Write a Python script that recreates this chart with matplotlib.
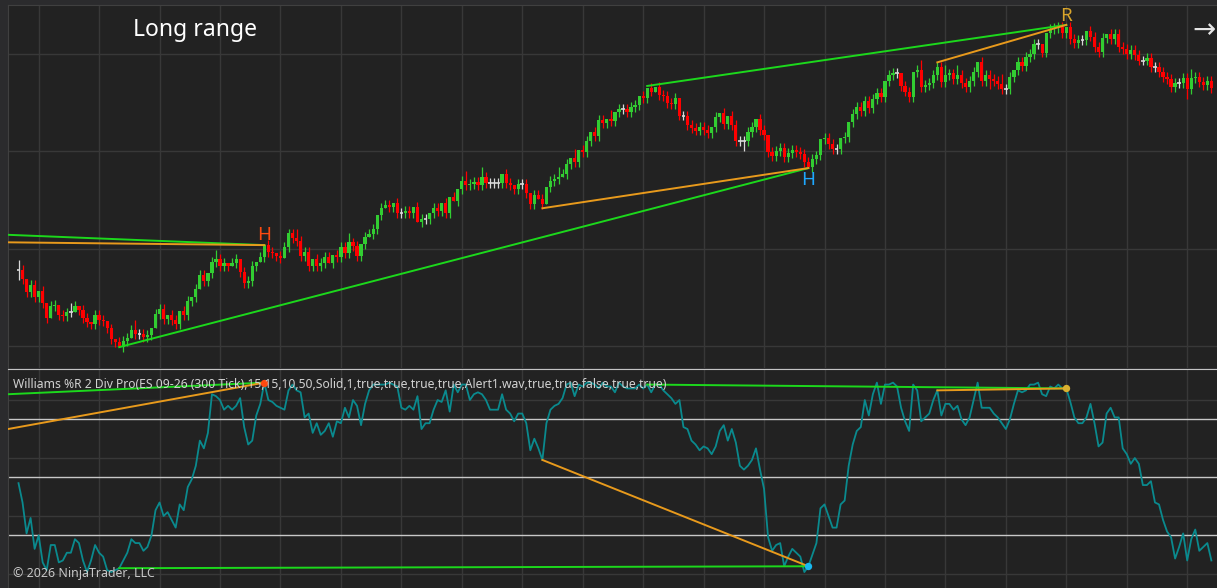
import numpy as np
import matplotlib
matplotlib.use("Agg")
import matplotlib.pyplot as plt

plt.rcParams['font.family'] = ['Noto Sans', 'DejaVu Sans']

# ES 09-26 (300 Tick) closes, one per bar
closes = [
    6403.91, 6403.44, 6402.80, 6403.14, 6402.51, 6402.85, 6402.24, 6401.47, 6402.07, 6402.14,
    6401.61, 6401.57, 6401.74, 6401.74, 6402.07, 6401.86, 6401.47, 6401.23, 6401.14, 6401.61,
    6401.35, 6401.31, 6400.92, 6400.39, 6400.24, 6399.96, 6400.27, 6400.43, 6400.84, 6400.63,
    6400.63, 6400.46, 6400.58, 6400.92, 6401.64, 6401.93, 6401.42, 6401.61, 6401.35, 6401.14,
    6401.81, 6401.61, 6402.32, 6402.54, 6402.95, 6403.66, 6403.36, 6403.77, 6404.32, 6404.46,
    6404.12, 6404.26, 6404.12, 6404.26, 6404.46, 6403.83, 6403.23, 6403.36, 6404.12, 6404.34,
    6404.58, 6405.19, 6404.85, 6404.77, 6404.63, 6404.51, 6405.11, 6405.79, 6405.54, 6405.42,
    6404.63, 6404.85, 6404.13, 6404.48, 6404.13, 6404.26, 6404.59, 6404.26, 6404.68, 6404.56,
    6405.08, 6404.80, 6405.33, 6405.16, 6404.65, 6405.25, 6405.59, 6405.76, 6406.00, 6406.73,
    6407.08, 6407.25, 6407.13, 6407.33, 6406.82, 6406.82, 6406.94, 6406.82, 6407.16, 6406.39,
    6406.53, 6406.53, 6406.85, 6407.08, 6406.95, 6407.36, 6406.82, 6407.64, 6407.47, 6408.07,
    6408.48, 6408.26, 6408.34, 6408.43, 6408.27, 6408.70, 6408.39, 6408.39, 6408.39, 6408.39,
    6408.84, 6408.39, 6408.29, 6408.05, 6408.32, 6408.32, 6407.88, 6407.30, 6407.76, 6407.54,
    6407.30, 6408.18, 6408.49, 6408.58, 6408.67, 6408.82, 6409.35, 6409.64, 6409.47, 6410.07,
    6409.98, 6410.53, 6410.97, 6410.78, 6411.61, 6411.44, 6411.64, 6411.55, 6412.02, 6412.15,
    6412.15, 6412.03, 6412.26, 6412.37, 6412.84, 6412.72, 6413.23, 6413.06, 6413.30, 6412.89,
    6412.85, 6412.46, 6412.40, 6412.72, 6411.83, 6411.83, 6411.35, 6411.21, 6411.06, 6411.23,
    6411.09, 6410.95, 6411.23, 6411.77, 6411.95, 6411.40, 6411.83, 6411.35, 6410.53, 6410.53,
    6410.53, 6410.99, 6411.26, 6411.64, 6411.09, 6410.82, 6409.98, 6409.76, 6410.02, 6410.17,
    6409.69, 6409.90, 6410.07, 6409.98, 6409.86, 6409.44, 6409.21, 6409.61, 6409.79, 6410.62,
    6410.70, 6410.37, 6410.10, 6410.10, 6410.67, 6410.75, 6411.52, 6411.91, 6412.29, 6412.08,
    6412.58, 6412.21, 6412.67, 6413.01, 6412.80, 6413.61, 6413.91, 6414.03, 6414.03, 6413.35,
    6413.06, 6412.80, 6414.08, 6414.17, 6413.31, 6413.40, 6413.52, 6413.91, 6414.34, 6413.57,
    6413.91, 6413.99, 6413.69, 6413.91, 6413.49, 6413.31, 6413.62, 6414.07, 6414.56, 6413.62,
    6413.91, 6413.69, 6413.62, 6413.45, 6413.19, 6413.19, 6413.79, 6414.17, 6414.56, 6414.37,
    6414.82, 6414.99, 6415.50, 6415.50, 6415.06, 6416.05, 6416.26, 6416.31, 6416.39, 6416.07,
    6416.37, 6415.74, 6415.57, 6415.71, 6415.71, 6416.18, 6415.88, 6415.35, 6415.09, 6415.79,
    6416.02, 6415.74, 6416.02, 6415.33, 6415.23, 6414.99, 6415.19, 6414.94, 6414.65, 6414.65,
    6414.77, 6414.34, 6414.34, 6414.08, 6413.79, 6413.69, 6413.28, 6413.52, 6413.52, 6413.74,
    6413.19, 6413.74, 6413.83, 6413.55, 6413.40, 6413.62, 6413.23,
]
# tick bars open where the previous one closed
opens = [closes[0]] + closes[:-1]

# wick lengths in ticks (0.25) above / below the body
wick_up = ("2101101011" "0112101101" "1101011112" "1110111011" "0110111012"
           "1101101110" "1011011112" "1110111101" "1121101110" "1110111101"
           "1101101010" "1211121111" "0110111011" "1011211020" "1101110201"
           "1111010101" "1111011111" "1101010111" "1110110111" "1111111110"
           "1111010111" "1111101110" "1101211111" "2112111101" "1111211011"
           "1111001111" "0111101111" "0111111111" "1111111111" "1211111")
wick_dn = ("2111111101" "1111011111" "1111101101" "1111011111" "1111101111"
           "1110111111" "0111110111" "1111111011" "1111111011" "1011111110"
           "1111111101" "1111111111" "1111111110" "1011101111" "1111111111"
           "1111111101" "1111111111" "1111111111" "2111111111" "1111110111"
           "1111111111" "1111111111" "1111111111" "1111111111" "1211111111"
           "1111111111" "1111111111" "1111111111" "1111111111" "2111111")

# Williams %R values, one per bar
wr = [
    -53, -63, -79, -71, -87, -80, -94, -98, -85, -85,
    -94, -93, -89, -89, -82, -84, -93, -99, -93, -85,
    -89, -91, -98, -99, -98, -97, -93, -89, -82, -84,
    -84, -88, -86, -80, -67, -63, -70, -68, -72, -76,
    -64, -67, -55, -51, -44, -31, -35, -27, -7, -8,
    -10, -15, -13, -15, -13, -9, -24, -33, -31, -18,
    -12, -1, -10, -11, -13, -14, -15, -5, -2, -5,
    -6, -19, -17, -27, -22, -28, -26, -22, -29, -21,
    -22, -14, -19, -10, -13, -23, -12, -5, -2, -2,
    -2, -2, -1, -2, -3, -14, -15, -13, -15, -8,
    -25, -22, -22, -15, -10, -11, -5, -16, -2, -6,
    -2, -2, -10, -7, -6, -7, -10, -15, -15,
    -15, -7, -15, -17, -21, -17, -17, -22, -36, -30,
    -35, -41, -22, -15, -13, -12, -9, -2, -1, -8,
    -2, -3, -1, -1, -2, -4, -1, -3, -3, -6,
    -1, -3, -4, -4, -4, -2, -4, -2, -6, -2,
    -2, -5, -7, -9, -12, -10, -24, -25, -31, -33,
    -36, -34, -35, -38, -34, -26, -23, -31, -25, -32,
    -44,
    -46, -44, -41, -35, -46, -56, -81, -88,
    -85, -84, -96, -91, -87, -89, -91, -99, -96, -90,
    -84, -66, -64, -70, -76, -76, -64, -62, -44, -33,
    -26, -24, -10, -18, -7, -1, -12, -2, -2, -1,
    -3, -14, -21, -26, -2, -5, -21, -19, -17, -10,
    -5, -18, -12, -12, -15, -13, -20, -23, -19, -10,
    -1, -14, -14, -14, -17, -19, -22, -25, -20, -12,
    -5, -6, -5, -2, -2, -1, -7, -8, -3, -4,
    -2, -4, -4, -11, -19, -22, -22, -19, -12, -22,
    -34, -32, -17, -14, -19, -19, -35, -38, -43, -40,
    -43, -54, -54, -52, -63, -64, -72, -78, -81, -92,
    -86,
    -79, -93, -82, -77, -88, -86, -84, -93,
]

# divergence lines: (bar0, value0, bar1, value1, kind)
price_div = [
    (-10, 6405.78, 61, 6405.19, 'green'),
    (-10, 6405.35, 61, 6405.19, 'orange'),
    (25, 6399.96, 196, 6409.14, 'green'),
    (130, 6407.08, 196, 6409.14, 'orange'),
    (156, 6413.35, 260, 6416.48, 'green'),
    (228, 6414.56, 260, 6416.48, 'orange'),
]
wr_div = [
    (-10, -7.7, 61, -1, 'green'),
    (-10, -27.8, 61, -1, 'orange'),
    (25, -97, 196, -96, 'green'),
    (130, -41, 196, -96, 'orange'),
    (156, -2, 260, -4, 'green'),
    (228, -5, 260, -4, 'orange'),
]
pivot_labels = [(61, 6405.71, 'H', '#ff4a10'), (196, 6408.52, 'H', '#1ea8ff'), (260, 6416.94, 'R', '#d9a52b')]
pivot_dots = [(61, -1, '#ff4a10'), (196, -96, '#18b8f0'), (260, -4, '#d9b030')]
wr_levels = [-20, -50, -80]

n = len(closes)
xs = np.arange(n)
o = np.array(opens)
c = np.array(closes)
hi = np.maximum(o, c) + 0.25 * np.array([int(ch) for ch in wick_up])
lo = np.minimum(o, c) - 0.25 * np.array([int(ch) for ch in wick_dn])

bg = '#222222'
grid_c = '#383838'
div_colors = {'green': '#1cd81c', 'orange': '#e89a1c'}
W, H = 1217, 588

fig = plt.figure(figsize=(W / 100, H / 100), dpi=100, facecolor='#2b2b2d')
ax = fig.add_axes([8 / W, 1 - 368 / H, 1 - 8 / W, 363 / H], facecolor=bg)
ax2 = fig.add_axes([8 / W, 0, 1 - 8 / W, 219 / H], facecolor=bg)

xlim = (-10.5 / 4.03, 1209 / 4.03 - 10.5 / 4.03)
for a in (ax, ax2):
    a.set_xlim(*xlim)
    a.set_xticks([])
    a.set_yticks([])
    for s in a.spines.values():
        s.set_visible(False)
    for k in range(20):
        a.axvline(5 + 15 * k, color=grid_c, lw=1, zorder=0)
ax.spines['left'].set_visible(True)
ax.spines['left'].set_color('#404040')
ax.spines['top'].set_visible(True)
ax.spines['top'].set_color('#404040')
ax2.spines['left'].set_visible(True)
ax2.spines['left'].set_color('#404040')
ax2.spines['top'].set_visible(True)
ax2.spines['top'].set_color('#c4c4c4')

# price panel
ax.set_ylim(6398.89, 6417.50)
for p in (6400, 6405, 6410, 6415):
    ax.axhline(p, color=grid_c, lw=1, zorder=0)

col = np.where(c > o, '#32cd32', np.where(c < o, '#ff0000', '#d8d8d8'))
ax.vlines(xs, lo, hi, colors=col, lw=0.9, zorder=2)
body = np.abs(c - o)
ax.bar(xs, body, bottom=np.minimum(o, c), width=0.8, color=col, linewidth=0, zorder=3)
doji = body == 0
ax.hlines(c[doji], xs[doji] - 0.45, xs[doji] + 0.45, colors='#d8d8d8', lw=1.2, zorder=3)

for x0, y0, x1, y1, k in price_div:
    ax.plot([x0, x1], [y0, y1], color=div_colors[k], lw=1.4, zorder=4)
for x, y, t, cl in pivot_labels:
    ax.text(x, y, t, color=cl, fontsize=13.5, ha='center', va='center', zorder=5)

# indicator panel
ax2.set_ylim(-107.24, 6.05)
for v in (-10, -40, -70, -100):
    ax2.axhline(v, color=grid_c, lw=1, zorder=0)
for v in wr_levels:
    ax2.axhline(v, color='#c8c8c8', lw=1, zorder=1)
ax2.plot(xs, wr, color='#0a8a8e', lw=1.3, zorder=2)
for x0, y0, x1, y1, k in wr_div:
    ax2.plot([x0, x1], [y0, y1], color=div_colors[k], lw=1.4, zorder=3)
for x, y, cl in pivot_dots:
    ax2.scatter([x], [y], s=28, color=cl, zorder=4, linewidths=0)

fig.text(133 / W, 1 - 30 / H, 'Long range', color='#ffffff', fontsize=16.5, va='center', ha='left')
fig.text(13 / W, 1 - 384 / H,
         'Williams %R 2 Div Pro(ES 09-26 (300 Tick),15,15,10,50,Solid,1,true,true,true,true,'
         'Alert1.wav,true,true,false,true,true)',
         color='#d2d2d2', fontsize=8.75, va='center', ha='left')
fig.text(13 / W, 1 - 573 / H, '\u00a9 2026 NinjaTrader, LLC', color='#c8c8c8', fontsize=8.9,
         va='center', ha='left')
fig.text(1192 / W, 1 - 31 / H, '\u2192', color='#e4e4e4', fontsize=20, va='center', ha='left')

fig.savefig('out.png', dpi=100, facecolor=fig.get_facecolor())
